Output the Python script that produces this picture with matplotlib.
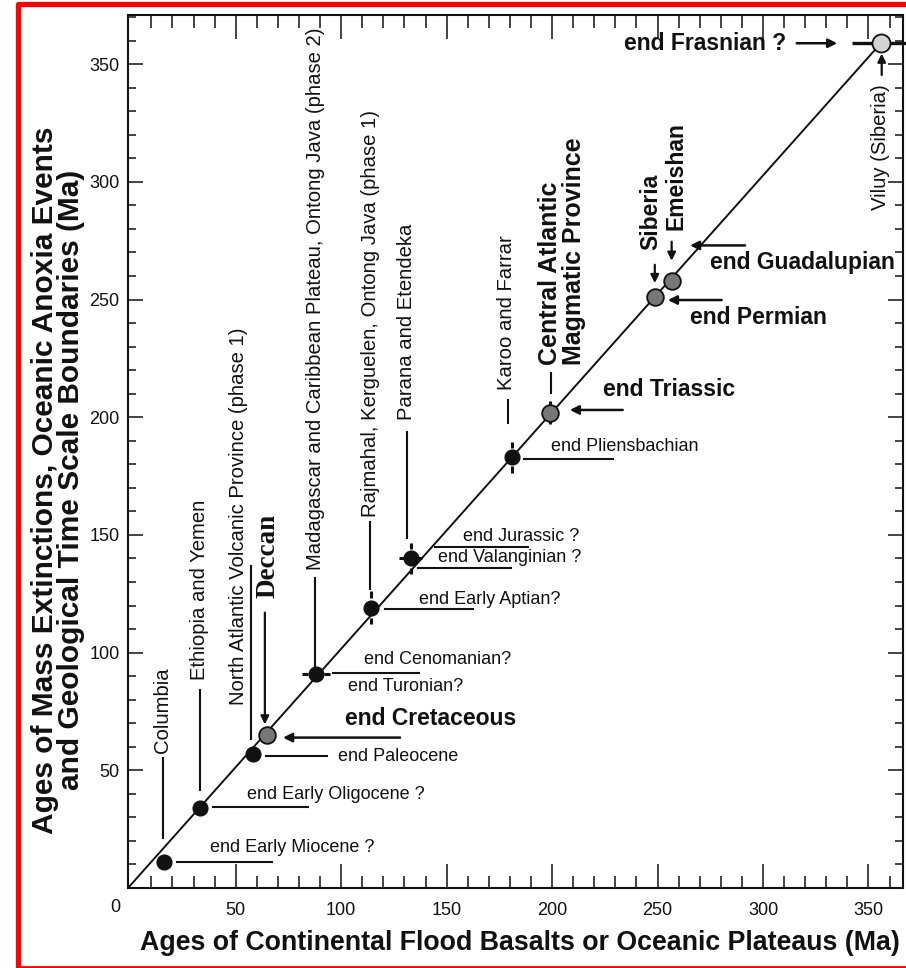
import numpy as np
import matplotlib.pyplot as plt
from matplotlib.lines import Line2D

plt.rcParams['font.family'] = ['Liberation Sans', 'DejaVu Sans']
INK = '#111111'

# flood basalt provinces: (basalt age, event age) in Ma
provinces = ['Columbia', 'Ethiopia and Yemen',
             'North Atlantic Volcanic Province (phase 1)', 'Deccan',
             'Madagascar and Caribbean Plateau, Ontong Java (phase 2)',
             'Rajmahal, Kerguelen, Ontong Java (phase 1)',
             'Parana and Etendeka', 'Karoo and Farrar',
             'Central Atlantic\nMagmatic Province', 'Siberia', 'Emeishan',
             'Viluy (Siberia)']
basalt_age = [16, 33, 58, 65, 88, 114, 133, 181, 199, 249, 257, 356]
event_age = [11, 34, 57, 65, 91, 119, 140, 183, 202, 251, 258, 359]
basalt_err = [0, 0, 0, 0, 6.5, 0, 5.5, 0, 0, 0, 0, 0]
event_err = [0, 0, 0, 0, 0, 7, 6.5, 6.5, 5, 0, 0, 0]
kind = ['black', 'black', 'black', 'grey', 'black', 'black', 'black',
        'black', 'grey', 'grey', 'grey', 'light']
viluy_range = [342, 372]

events = ['end Early Miocene ?', 'end Early Oligocene ?', 'end Paleocene',
          'end Cretaceous', 'end Cenomanian?', 'end Turonian?',
          'end Early Aptian?', 'end Jurassic ?', 'end Valanginian ?',
          'end Pliensbachian', 'end Triassic', 'end Permian',
          'end Guadalupian', 'end Frasnian ?']

# ---- layout of the labels (data units) ----
# text x, text bottom y, style, mark x, mark y0, mark y1, arrow?
prov_layout = [
    (15.3, 57.5, 'n', 15.3, 55.4, 21.4, False),
    (33.0, 88.5, 'n', 33.0, 84.0, 41.5, False),
    (51.3, 77.9, 'n', 57.3, 137.0, 63.1, False),
    (65.4, 123.3, 'serif', 63.8, 117.0, 69.5, True),
    (87.7, 135.2, 'n', 87.7, 131.8, 94.5, False),
    (113.7, 157.7, 'n', 113.7, 155.6, 127.0, False),
    (131.2, 198.9, 'n', 131.2, 193.8, 148.8, False),
    (178.5, 211.7, 'n', 179.0, 207.4, 197.6, False),
    (204.6, 222.0, 'b', 199.5, 219.0, 210.4, False),
    (246.8, 271.0, 'b', 248.7, 264.8, 257.0, True),
    (258.6, 279.5, 'b', 256.7, 274.6, 266.5, True),
    (355.8, 288.0, 'n', 356.3, 345.4, 354.5, True),
]
# text left x, text centre y, bold?, mark (x0, x1, y), arrow?
event_layout = [
    (37.9, 17.0, False, (22.0, 67.0, 10.9), False),
    (55.2, 39.7, False, (39.2, 84.3, 34.3), False),
    (98.6, 55.9, False, (64.3, 93.2, 55.9), False),
    (101.8, 72.2, True, (127.9, 72.4, 63.9), True),
    (111.0, 97.0, False, (96.1, 136.9, 91.5), False),
    (103.4, 85.5, False, None, False),
    (136.9, 122.5, False, (120.8, 162.5, 118.6), False),
    (157.9, 149.2, False, (144.5, 188.6, 144.7), False),
    (145.8, 140.4, False, (136.4, 180.4, 136.0), False),
    (199.3, 187.6, False, (186.7, 229.0, 182.3), False),
    (224.3, 211.7, True, (233.5, 208.4, 203.1), True),
    (265.4, 242.3, True, (280.4, 254.9, 249.8), True),
    (274.9, 265.6, True, (291.5, 265.4, 273.0), True),
    (234.1, 358.9, True, (316.0, 335.2, 358.9), True),
]

fig = plt.figure(figsize=(9.06, 9.68), dpi=100)
ax = fig.add_axes([128 / 906, 80 / 968, 775 / 906, 873 / 968])
ax.set_xlim(-1.1, 366.4)
ax.set_ylim(0, 370.9)

# 1:1 line
ax.plot([ax.get_xlim()[0], basalt_age[-1]], [0, event_age[-1]],
        color=INK, lw=1.4, zorder=2)

# Frasnian bar through Viluy
ax.plot(viluy_range, [event_age[-1]] * 2, color=INK, lw=2.4,
        solid_capstyle='butt', clip_on=False, zorder=2)

# error marks
for x, y, ex, ey in zip(basalt_age, event_age, basalt_err, event_err):
    if ey:
        ax.vlines([x, x], [y + 0.6 * ey, y - ey], [y + ey, y - 0.6 * ey],
                  color=INK, lw=2.2, zorder=3)
    if ex:
        ax.hlines([y, y], [x + 0.6 * ex, x - ex], [x + ex, x - 0.6 * ex],
                  color=INK, lw=2.2, zorder=3)

styles = {'black': dict(ms=10.6, mfc=INK, mec=INK, mew=1.0),
          'grey': dict(ms=12, mfc='#777777', mec=INK, mew=1.3),
          'light': dict(ms=13, mfc='#d4d4d4', mec=INK, mew=1.3)}
for x, y, k in zip(basalt_age, event_age, kind):
    ax.plot(x, y, 'o', zorder=4, **styles[k])

# province labels (vertical)
for name, (tx, ty, st, mx, my0, my1, arrow) in zip(provinces, prov_layout):
    if st == 'serif':
        kw = dict(fontsize=19.5, fontweight='bold', family='Liberation Serif')
    elif st == 'b':
        kw = dict(fontsize=16.5 if '\n' not in name else 18,
                  fontweight='bold', linespacing=1.0)
    else:
        kw = dict(fontsize=14.6)
    ax.text(tx, ty, name, rotation=90, ha='center', va='bottom',
            multialignment='left', color=INK, **kw)
    if arrow:
        ax.annotate('', xy=(mx, my1), xytext=(mx, my0),
                    arrowprops=dict(arrowstyle='-|>', color=INK, lw=1.6,
                                    mutation_scale=12, shrinkA=0, shrinkB=0))
    else:
        ax.plot([mx, mx], [my0, my1], color=INK, lw=1.5)

# event labels (horizontal)
for name, (tx, ty, bold, mark, arrow) in zip(events, event_layout):
    if bold:
        ax.text(tx, ty, name, ha='left', va='center', fontsize=16.5,
                fontweight='bold', color=INK)
    else:
        ax.text(tx, ty, name, ha='left', va='center', fontsize=13, color=INK)
    if mark is None:
        continue
    x0, x1, y = mark
    if arrow:
        ax.annotate('', xy=(x1, y), xytext=(x0, y),
                    arrowprops=dict(arrowstyle='-|>', color=INK, lw=1.8,
                                    mutation_scale=13, shrinkA=0, shrinkB=0))
    else:
        ax.plot([x0, x1], [y, y], color=INK, lw=1.5)

# axes and ticks
ax.set_xticks(np.arange(50, 351, 50))
ax.set_xticks(np.arange(10, 361, 10), minor=True)
ax.set_yticks(np.arange(50, 351, 50))
ax.set_yticks(np.arange(10, 371, 10), minor=True)
ax.tick_params(which='both', direction='in', top=True, right=True,
               width=1.1, colors=INK)
ax.tick_params(axis='x', which='major', length=17, pad=10, labelsize=13)
ax.tick_params(axis='x', which='minor', length=9)
ax.tick_params(axis='y', which='major', length=11, pad=6, labelsize=13)
ax.tick_params(axis='y', which='minor', length=5.5)
for s in ax.spines.values():
    s.set_linewidth(1.5)
    s.set_color(INK)
ax.text(-7.3, -8.3, '0', ha='center', va='center', fontsize=13,
        color=INK, clip_on=False)

ax.set_xlabel('Ages of Continental Flood Basalts or Oceanic Plateaus (Ma)',
              fontsize=19.3, fontweight='bold', color=INK, va='center')
ax.xaxis.set_label_coords(0.506, -0.063)
ax.set_ylabel('Ages of Mass Extinctions, Oceanic Anoxia Events\n'
              'and Geological Time Scale Boundaries (Ma)',
              fontsize=21.5, fontweight='bold', color=INK, va='center',
              linespacing=0.93)
ax.yaxis.set_label_coords(-0.090, 0.467)

# red frame around the scan
l, t, b = 17.8 / 906, 1 - 4.2 / 968, 1 - 966.7 / 968
fig.add_artist(Line2D([1.02, l, l], [t, t, b], color='red', lw=3.8))
fig.add_artist(Line2D([l, 1.02], [b, b], color='red', lw=2.0))

fig.savefig('out.png', dpi=100)
